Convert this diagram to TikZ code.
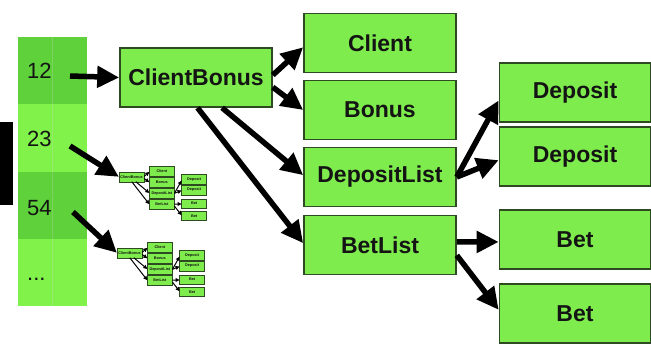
\documentclass[tikz,border=0pt]{standalone}
\usepackage{fontspec}
\setmainfont{Liberation Sans}
\usetikzlibrary{arrows.meta,calc}
\definecolor{cellDark}{HTML}{5ED13B}
\definecolor{cellLight}{HTML}{80F24A}
\definecolor{boxFill}{HTML}{7EEC4C}
\definecolor{boxLine}{HTML}{2E4A20}
\definecolor{inkDark}{HTML}{141414}
\tikzset{
  tbox/.style={draw=boxLine, fill=boxFill, minimum width=152pt, minimum height=59pt,
    inner sep=0pt, text=inkDark, font=\fontsize{23}{27}\selectfont\bfseries},
  rbox/.style={tbox, minimum width=151pt},
  tarrow/.style={draw=black, -{Triangle[length=0pt 4, width=0pt 3.8]}},
  cellbox/.style={minimum width=69pt, minimum height=67pt, inner sep=0pt, draw=none},
  numlbl/.style={anchor=west, inner sep=0pt, text=inkDark, font=\fontsize{22}{26}\selectfont},
}
% #1 prefix, #2 box line width, #3 arrow line width
\newcommand\mytree[3]{%
  \node[tbox, line width=#2] (#1cb) at (196,77.5) {ClientBonus};
  \node[tbox, line width=#2] (#1cl) at (380,43) {Client};
  \node[tbox, line width=#2] (#1bo) at (380,110) {Bonus};
  \node[tbox, line width=#2] (#1dl) at (380,177) {DepositList};
  \node[tbox, line width=#2] (#1bl) at (380,245) {BetList};
  \node[rbox, line width=#2] (#1d1) at (575,92.5) {Deposit};
  \node[rbox, line width=#2] (#1d2) at (575,156.5) {Deposit};
  \node[rbox, line width=#2] (#1b1) at (575,239.5) {Bet};
  \node[rbox, line width=#2] (#1b2) at (575,313.5) {Bet};
  \draw[tarrow, line width=#3] ($(#1cb.north east)!0.46!(#1cb.south east)$) -- ($(#1cl.north west)!0.57!(#1cl.south west)$);
  \draw[tarrow, line width=#3] ($(#1cb.north east)!0.66!(#1cb.south east)$) -- (#1bo.west);
  \draw[tarrow, line width=#3] ($(#1cb.south west)!0.67!(#1cb.south east)$) -- ($(#1dl.north west)!0.47!(#1dl.south west)$);
  \draw[tarrow, line width=#3] ($(#1cb.south west)!0.51!(#1cb.south east)$) -- ($(#1bl.north west)!0.47!(#1bl.south west)$);
  \draw[tarrow, line width=#3] (#1dl.east) -- ($(#1d1.north west)!0.63!(#1d1.south west)$);
  \draw[tarrow, line width=#3] (#1dl.east) -- ($(#1d2.north west)!0.56!(#1d2.south west)$);
  \draw[tarrow, line width=#3] ($(#1bl.north east)!0.45!(#1bl.south east)$) -- ($(#1b1.north west)!0.54!(#1b1.south west)$);
  \draw[tarrow, line width=#3] ($(#1bl.north east)!0.67!(#1bl.south east)$) -- ($(#1b2.north west)!0.44!(#1b2.south west)$);
}
\begin{document}
\begin{tikzpicture}[x=1pt, y=-1pt]
  \useasboundingbox[fill=white] (0,0) rectangle (651,345);
  % black bar at left edge
  \fill[black] (0,122) rectangle (13,205);
  % left column of cells
  \node[cellbox, fill=cellDark]  (c12) at (52.5,70.5) {};
  \node[cellbox, fill=cellLight] (c23) at (52.5,138) {};
  \node[cellbox, fill=cellDark]  (c54) at (52.5,205) {};
  \node[cellbox, fill=cellLight] (cdots) at (52.5,272) {};
  \draw[black!15, line width=0.5pt, opacity=0.25] (c12.north) -- (cdots.south);
  \node[numlbl] (l12) at (27,71) {12};
  \node[numlbl] (l23) at (27,139) {23};
  \node[numlbl] (l54) at (27,208) {54};
  \node[numlbl] (ldots) at (27,279) {...};
  % main tree
  \mytree{m}{1.6pt}{5.5pt}
  % small trees
  \begin{scope}[shift={(119,172)}, scale=0.165, transform shape, shift={(-120,-48)}]
    \mytree{s}{0.45pt}{1pt}
  \end{scope}
  \begin{scope}[shift={(117,248)}, scale=0.165, transform shape, shift={(-120,-48)}]
    \mytree{t}{0.45pt}{1pt}
  \end{scope}
  % arrows from the cells
  \coordinate (a12) at (70,76);
  \coordinate (a23) at (70,146);
  \coordinate (a54) at (73,212);
  \draw[tarrow, line width=5.5pt] (a12) -- (mcb.west);
  \draw[tarrow, line width=5.5pt] (a23) -- (scb.west);
  \draw[tarrow, line width=5.5pt] (a54) -- (tcb.west);
\end{tikzpicture}
\end{document}
